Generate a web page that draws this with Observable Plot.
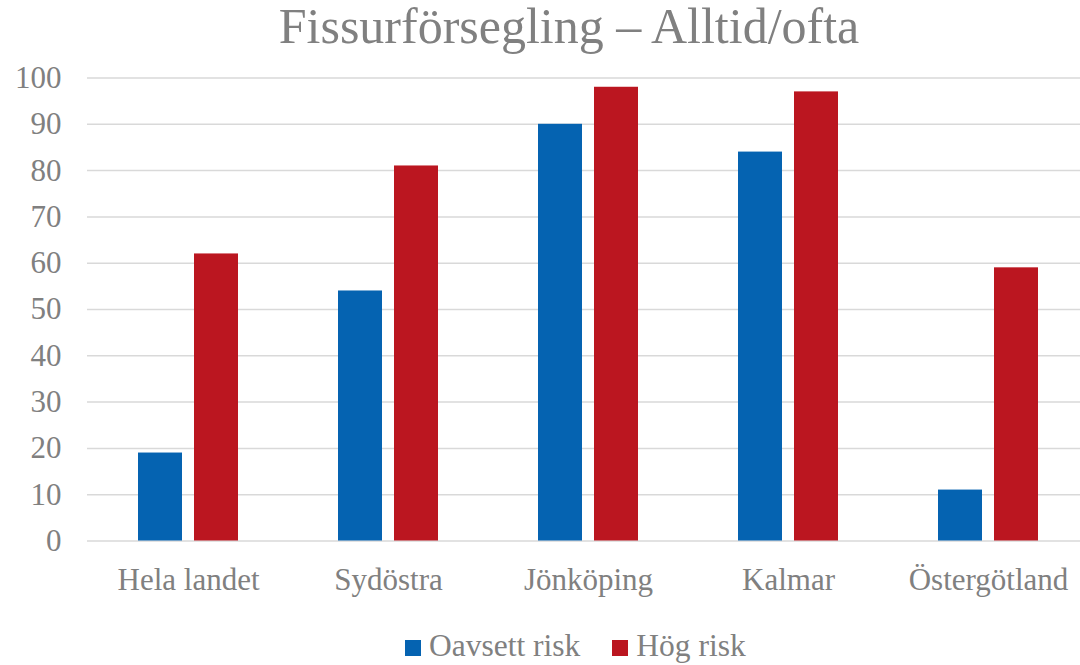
<!DOCTYPE html>
<html>
<head>
<meta charset="utf-8">
<script src="https://cdn.jsdelivr.net/npm/d3@7"></script>
<script src="https://cdn.jsdelivr.net/npm/@observablehq/plot@0.6"></script>
<style>
  html, body { margin: 0; padding: 0; width: 1080px; height: 665px; overflow: hidden; background: #fff; }
  #wrap { position: relative; width: 1080px; height: 665px; font-family: "Liberation Serif", "Times New Roman", serif; color: #808080; }
  #title { position: absolute; left: 0; width: 1080px; top: 1px; text-align: center; font-size: 50px; line-height: 50px; padding-left: 58px; box-sizing: border-box; white-space: nowrap; }
  #chart { position: absolute; left: 0; top: 0; }
  #legend { position: absolute; left: 405px; top: 628px; font-size: 31.5px; line-height: 36px; white-space: nowrap; }
  .item { display: inline-flex; align-items: baseline; }
  .sw { display: inline-block; width: 16px; height: 16px; margin-right: 8px; }
</style>
</head>
<body>
<div id="wrap">
  <div id="title"></div>
  <div id="chart"></div>
  <div id="legend"></div>
</div>
<script>
const titleText = "Fissurförsegling – Alltid/ofta";
const categories = ["Hela landet", "Sydöstra", "Jönköping", "Kalmar", "Östergötland"];
const series = ["Oavsett risk", "Hög risk"];
const oavsettRisk = [19, 54, 90, 84, 11];
const hogRisk = [62, 81, 98, 97, 59];
const yTicks = [0, 10, 20, 30, 40, 50, 60, 70, 80, 90, 100];
const colors = ["#0563b1", "#bb1620"];

const rows = [];
categories.forEach((c, i) => {
  rows.push({category: c, series: series[0], value: oavsettRisk[i]});
  rows.push({category: c, series: series[1], value: hogRisk[i]});
});

document.getElementById("title").textContent = titleText;

const W = 1080, H = 600;
const yTop = 77.5, yBottom = 540.5;
const fontFamily = "'Liberation Serif', 'Times New Roman', serif";

const chart = Plot.plot({
  width: W,
  height: H,
  marginTop: yTop,
  marginBottom: H - yBottom,
  marginLeft: 87,
  marginRight: 0,
  style: {fontFamily, fontSize: "31px", color: "#808080", background: "transparent"},
  x: {domain: categories, range: [87, 1089], padding: 0, label: null},
  y: {domain: [0, 100], label: null},
  color: {domain: series, range: colors},
  marks: [
    Plot.gridY(yTicks, {stroke: "#d9d9d9", strokeOpacity: 1, strokeWidth: 1.5}),
    Plot.barY(rows.filter(d => d.series === series[0]), {x: "category", y: "value", fill: "series", insetLeft: 50, insetRight: 106}),
    Plot.barY(rows.filter(d => d.series === series[1]), {x: "category", y: "value", fill: "series", insetLeft: 106, insetRight: 50}),
    Plot.axisY({ticks: yTicks, tickSize: 0, tickPadding: 26, fill: "#808080", fontSize: 31, label: null}),
    Plot.axisX({tickSize: 0, tickPadding: 27, fill: "#808080", fontSize: 31, label: null})
  ]
});
document.getElementById("chart").appendChild(chart);

const legend = document.getElementById("legend");
series.forEach((s, i) => {
  const item = document.createElement("span");
  item.className = "item";
  if (i > 0) item.style.marginLeft = "32px";
  const sw = document.createElement("span");
  sw.className = "sw";
  sw.style.background = colors[i];
  const t = document.createElement("span");
  t.textContent = s;
  item.appendChild(sw);
  item.appendChild(t);
  legend.appendChild(item);
});
</script>
</body>
</html>
